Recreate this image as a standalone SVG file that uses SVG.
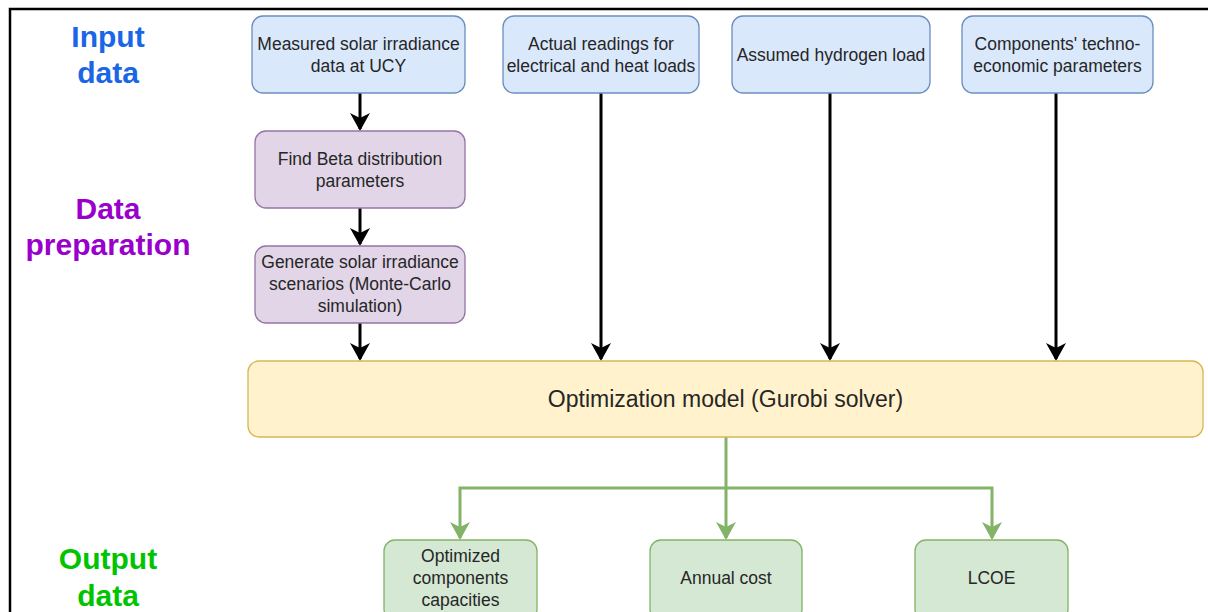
<svg xmlns="http://www.w3.org/2000/svg" width="1208" height="612" viewBox="0 0 1208 612">
<defs>
<style>
.t{font-family:"Liberation Sans",Arial,sans-serif;font-size:17.5px;fill:#262626;text-anchor:middle}
.big{font-family:"Liberation Sans",Arial,sans-serif;font-size:23px;fill:#262626;text-anchor:middle}
.h{font-family:"Liberation Sans",Arial,sans-serif;font-size:30px;font-weight:bold;text-anchor:middle}
.blue{fill:#dae8fc;stroke:#6c8ebf;stroke-width:1.3}
.purple{fill:#e1d5e7;stroke:#9673a6;stroke-width:1.3}
.yellow{fill:#fff2cc;stroke:#d6b656;stroke-width:1.3}
.green{fill:#d5e8d4;stroke:#82b366;stroke-width:1.3}
.bk{stroke:#000;stroke-width:3;fill:none}
.gr{stroke:#82b366;stroke-width:3;fill:none}
</style>
<marker id="ab" markerWidth="20" markerHeight="20" refX="16" refY="10" orient="auto" markerUnits="userSpaceOnUse" viewBox="0 0 20 20"><path d="M0,0 L18,10 L0,20 L5,10 Z" fill="#000"/></marker>
<marker id="ag" markerWidth="20" markerHeight="20" refX="16" refY="10" orient="auto" markerUnits="userSpaceOnUse" viewBox="0 0 20 20"><path d="M0,0 L18,10 L0,20 L5,10 Z" fill="#82b366"/></marker>
</defs>
<rect x="0" y="0" width="1208" height="612" fill="#fff"/>
<path d="M10,612 L10,9 L1208,9" fill="none" stroke="#000" stroke-width="2.5"/>
<g id="labels">
<text class="h" x="108" y="47" fill="#1a66e6">Input</text>
<text class="h" x="108" y="83" fill="#1a66e6">data</text>
<text class="h" x="108" y="219" fill="#9900cc">Data</text>
<text class="h" x="108" y="255" fill="#9900cc">preparation</text>
<text class="h" x="108" y="569" fill="#00c400">Output</text>
<text class="h" x="108" y="606" fill="#00c400">data</text>
</g>
<g id="connectors">
<path class="bk" d="M360,93 L360,129" marker-end="url(#ab)"/>
<path class="bk" d="M360,208 L360,244" marker-end="url(#ab)"/>
<path class="bk" d="M360,323 L360,359" marker-end="url(#ab)"/>
<path class="bk" d="M601,93 L601,359" marker-end="url(#ab)"/>
<path class="bk" d="M830,93 L830,359" marker-end="url(#ab)"/>
<path class="bk" d="M1056,93 L1056,359" marker-end="url(#ab)"/>
<path class="gr" d="M726,437 L726,538" marker-end="url(#ag)"/>
<path class="gr" d="M726,488 L460,488 L460,538" marker-end="url(#ag)"/>
<path class="gr" d="M726,488 L992,488 L992,538" marker-end="url(#ag)"/>
</g>
<g id="n1"><rect class="blue" x="252" y="16" width="213" height="77" rx="11"/><text class="t" x="358.5" y="50">Measured solar irradiance</text><text class="t" x="358.5" y="72">data at UCY</text></g>
<g id="n2"><rect class="blue" x="503" y="16" width="196" height="77" rx="11"/><text class="t" x="601" y="50">Actual readings for</text><text class="t" x="601" y="72">electrical and heat loads</text></g>
<g id="n3"><rect class="blue" x="732" y="16" width="198" height="77" rx="11"/><text class="t" x="831" y="61">Assumed hydrogen load</text></g>
<g id="n4"><rect class="blue" x="962" y="16" width="191" height="77" rx="11"/><text class="t" x="1057.5" y="50">Components' techno-</text><text class="t" x="1057.5" y="72">economic parameters</text></g>
<g id="n5"><rect class="purple" x="255" y="131" width="210" height="77" rx="11"/><text class="t" x="360" y="165">Find Beta distribution</text><text class="t" x="360" y="187">parameters</text></g>
<g id="n6"><rect class="purple" x="255" y="246" width="210" height="77" rx="11"/><text class="t" x="360" y="268">Generate solar irradiance</text><text class="t" x="360" y="290">scenarios (Monte-Carlo</text><text class="t" x="360" y="312">simulation)</text></g>
<g id="n7"><rect class="yellow" x="248" y="361" width="955" height="76" rx="11"/><text class="big" x="725.5" y="407">Optimization model (Gurobi solver)</text></g>
<g id="n8"><rect class="green" x="384" y="540" width="153" height="80" rx="11"/><text class="t" x="460.5" y="562">Optimized</text><text class="t" x="460.5" y="584">components</text><text class="t" x="460.5" y="606">capacities</text></g>
<g id="n9"><rect class="green" x="650" y="540" width="152" height="80" rx="11"/><text class="t" x="726" y="584">Annual cost</text></g>
<g id="n10"><rect class="green" x="915" y="540" width="153" height="80" rx="11"/><text class="t" x="991.5" y="584">LCOE</text></g>
</svg>
